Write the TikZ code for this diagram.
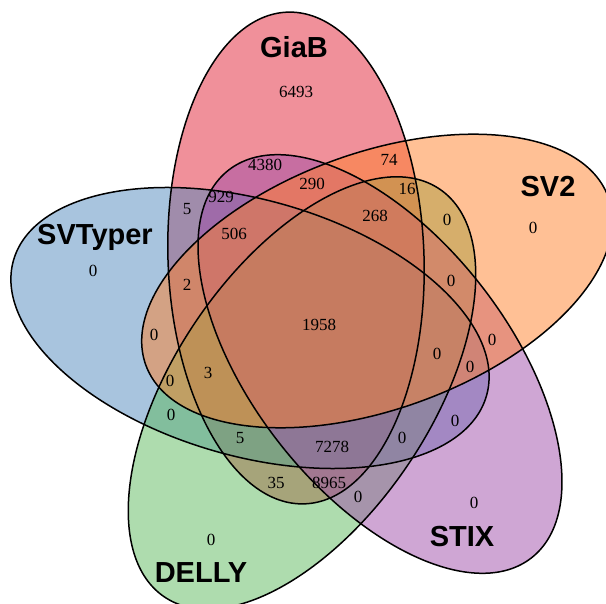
\documentclass[tikz,border=0pt]{standalone}
\usepackage{fontspec}
\setmainfont{Liberation Serif}
\newfontfamily\setfont{Liberation Sans}

\definecolor{giabfill}{RGB}{225,33,53}
\definecolor{svtyperfill}{RGB}{81,137,189}
\definecolor{dellyfill}{RGB}{93,185,93}
\definecolor{stixfill}{RGB}{159,77,169}
\definecolor{svtwofill}{RGB}{255,129,43}

\begin{document}
\begin{tikzpicture}[x=1pt,y=-1pt,
    setlabel/.style={font=\setfont\bfseries\fontsize{29}{30}\selectfont, anchor=base},
    count/.style={font=\fontsize{17}{18}\selectfont, inner sep=0pt},
    setfill/.style={fill=#1, fill opacity=0.5},
    setline/.style={draw=black, line width=1.5pt}]
    \useasboundingbox (0,0) rectangle (606,604);
    \clip (0,0) rectangle (606,604);

    % fills, in stacking order
    \fill[setfill=giabfill, shift={(296,258)}, rotate=92] (0,0) ellipse (246 and 128);
    \fill[setfill=svtyperfill, shift={(250,328)}, rotate=164] (0,0) ellipse (246 and 128);
    \fill[setfill=dellyfill, shift={(302,393)}, rotate=236] (0,0) ellipse (246 and 128);
    \fill[setfill=stixfill, shift={(380,364)}, rotate=308] (0,0) ellipse (246 and 128);
    \fill[setfill=svtwofill, shift={(377,281)}, rotate=20] (0,0) ellipse (246 and 128);

    % outlines on top
    \draw[setline, shift={(296,258)}, rotate=92] (0,0) ellipse (246 and 128);
    \draw[setline, shift={(250,328)}, rotate=164] (0,0) ellipse (246 and 128);
    \draw[setline, shift={(302,393)}, rotate=236] (0,0) ellipse (246 and 128);
    \draw[setline, shift={(380,364)}, rotate=308] (0,0) ellipse (246 and 128);
    \draw[setline, shift={(377,281)}, rotate=20] (0,0) ellipse (246 and 128);

    % set names
    \node[setlabel] (giab) at (294,58) {GiaB};
    \node[setlabel] (svtwo) at (548,197) {SV2};
    \node[setlabel] (svtyper) at (95,245) {SVTyper};
    \node[setlabel] (stix) at (462,547) {STIX};
    \node[setlabel] (delly) at (201,582) {DELLY};

    % region counts
    \node[count] (r1) at (296,92) {6493};
    \node[count] (r2) at (265,165) {4380};
    \node[count] (r3) at (389,160) {74};
    \node[count] (r4) at (312,184) {290};
    \node[count] (r5) at (221,197) {929};
    \node[count] (r6) at (407,189) {16};
    \node[count] (r7) at (187,209) {5};
    \node[count] (r8) at (375,216) {268};
    \node[count] (r9) at (447,220) {0};
    \node[count] (r10) at (533,228) {0};
    \node[count] (r11) at (93,271) {0};
    \node[count] (r12) at (234,234) {506};
    \node[count] (r13) at (187,285) {2};
    \node[count] (r14) at (451,281) {0};
    \node[count] (r15) at (319,325) {1958};
    \node[count] (r16) at (154,335) {0};
    \node[count] (r17) at (492,340) {0};
    \node[count] (r18) at (437,354) {0};
    \node[count] (r19) at (470,367) {0};
    \node[count] (r20) at (208,373) {3};
    \node[count] (r21) at (170,381) {0};
    \node[count] (r22) at (171,415) {0};
    \node[count] (r23) at (455,421) {0};
    \node[count] (r24) at (240,438) {5};
    \node[count] (r25) at (332,447) {7278};
    \node[count] (r26) at (402,438) {0};
    \node[count] (r27) at (276,483) {35};
    \node[count] (r28) at (329,483) {8965};
    \node[count] (r29) at (358,497) {0};
    \node[count] (r30) at (474,503) {0};
    \node[count] (r31) at (211,540) {0};
\end{tikzpicture}
\end{document}
